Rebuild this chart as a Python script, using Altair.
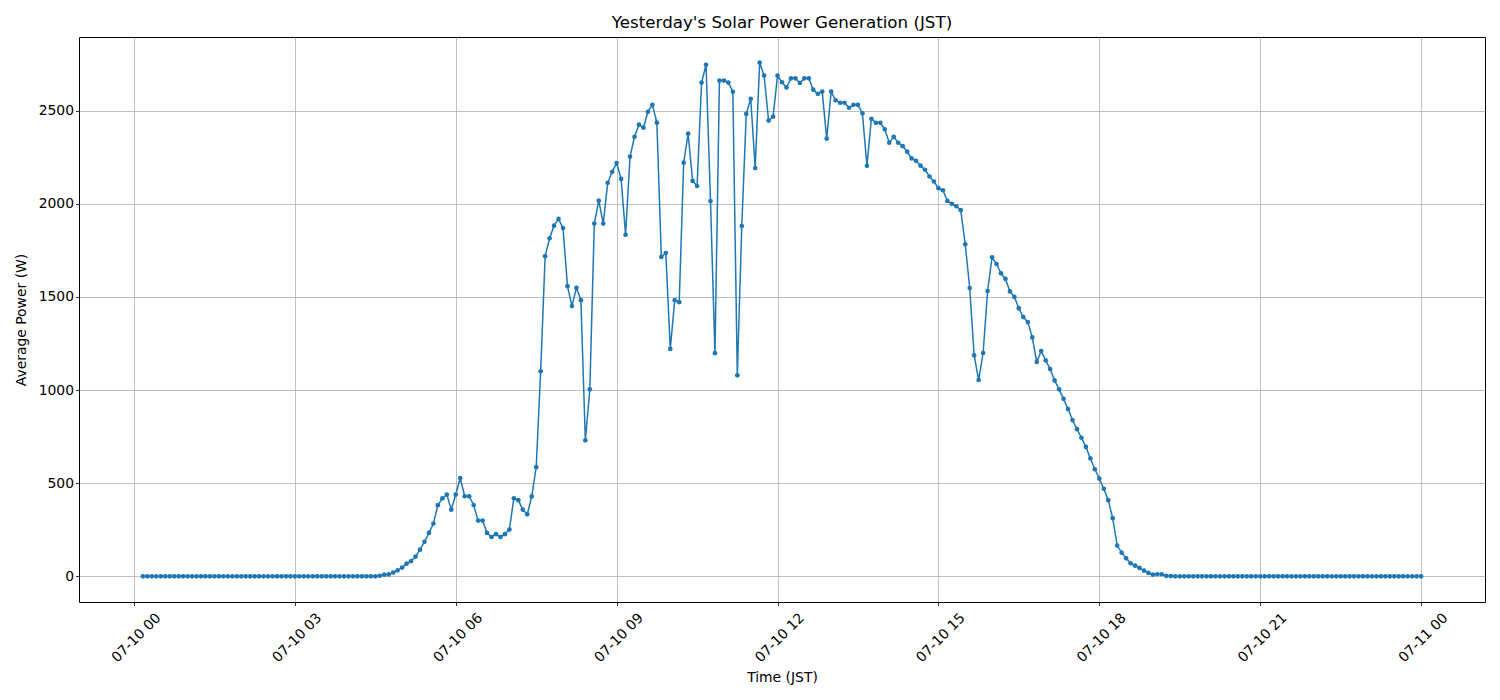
import altair as alt
import pandas as pd

# 5-minute samples from 07-10 00:10 to 07-11 00:00 (JST)
times = [t.strftime("%Y-%m-%dT%H:%M:%SZ") for t in
         pd.date_range("2024-07-10 00:10", "2024-07-11 00:00", freq="5min")]

night_before = [0] * 53
daytime = [
    3, 9, 10, 20, 32, 47, 68, 81, 106, 143,
    185, 233, 283, 382, 418, 439, 358, 439, 528, 430,
    430, 383, 299, 299, 233, 211, 226, 211, 226, 251,
    419, 409, 358, 333, 429, 586, 1101, 1719, 1815, 1883,
    1919, 1870, 1558, 1451, 1549, 1483, 730, 1004, 1894, 2017,
    1894, 2113, 2172, 2219, 2134, 1834, 2254, 2360, 2425, 2409,
    2494, 2532, 2436, 1715, 1736, 1221, 1483, 1472, 2221, 2377,
    2123, 2096, 2651, 2747, 2015, 1198, 2662, 2662, 2651, 2602,
    1079, 1881, 2483, 2564, 2192, 2758, 2689, 2447, 2468, 2689,
    2653, 2625, 2674, 2674, 2649, 2674, 2674, 2613, 2591, 2603,
    2350, 2603, 2556, 2543, 2543, 2516, 2532, 2532, 2486, 2204,
    2457, 2435, 2435, 2400, 2328, 2360, 2328, 2310, 2280, 2244,
    2231, 2205, 2183, 2147, 2120, 2084, 2073, 2016, 2000, 1987,
    1966, 1783, 1548, 1186, 1054, 1199, 1532, 1713, 1677, 1627,
    1597, 1530, 1500, 1439, 1392, 1365, 1283, 1151, 1210, 1159,
    1113, 1052, 1004, 953, 898, 839, 790, 744, 695, 633,
    575, 525, 470, 409, 312, 165, 127, 97, 70, 57,
    45, 30, 18, 9, 11, 11, 2, 1,
]
night_after = [0] * 56
power = night_before + daytime + night_after

tick_times = [alt.DateTime(year=2024, month=7, date=10, hours=h, utc=True) for h in range(0, 24, 3)]
tick_times.append(alt.DateTime(year=2024, month=7, date=11, hours=0, utc=True))
y_ticks = [0, 500, 1000, 1500, 2000, 2500]

df = pd.DataFrame({"time": times, "power": power})

FONT = "DejaVu Sans"
BLUE = "#1f77b4"

x_enc = alt.X(
    "time:T",
    scale=alt.Scale(
        type="utc",
        domain=[
            alt.DateTime(year=2024, month=7, date=9, hours=22, minutes=58, seconds=30, utc=True),
            alt.DateTime(year=2024, month=7, date=11, hours=1, minutes=11, seconds=30, utc=True),
        ],
    ),
    axis=alt.Axis(
        title="Time (JST)",
        values=tick_times,
        labelExpr="utcFormat(datum.value, '%m-%d %H')",
        labelAngle=-45,
        labelAlign="center",
        labelBaseline="middle",
        labelPadding=32,
        labelOffset=2,
        titlePadding=6,
    ),
)
y_enc = alt.Y(
    "power:Q",
    scale=alt.Scale(domain=[-138, 2896], nice=False, zero=False),
    axis=alt.Axis(title="Average Power (W)", values=y_ticks, format="d", titlePadding=10),
)

base = alt.Chart(df).encode(x=x_enc, y=y_enc)
line = base.mark_line(color=BLUE, strokeWidth=1.5)
pts = base.mark_circle(color=BLUE, size=22, opacity=1)

chart = (
    (line + pts)
    .properties(
        width=1406,
        height=565,
        background="white",
        title=alt.TitleParams(
            "Yesterday's Solar Power Generation (JST)",
            font=FONT, fontSize=16.7, fontWeight="normal", color="black",
            anchor="middle", offset=5,
        ),
        autosize=alt.AutoSizeParams(type="none"),
        padding={"left": 79, "top": 37, "right": 15, "bottom": 98},
    )
    .configure_view(stroke="black", strokeWidth=1)
    .configure_axis(
        domain=False,
        grid=True,
        gridColor="#b0b0b0",
        gridWidth=0.8,
        gridOpacity=1,
        ticks=True,
        tickSize=3.5,
        tickColor="black",
        tickWidth=0.8,
        labelFont=FONT,
        labelFontSize=13.9,
        labelColor="black",
        titleFont=FONT,
        titleFontSize=13.9,
        titleFontWeight="normal",
        titleColor="black",
    )
)

chart.save("out.html", embed_options={"renderer": "svg", "actions": False})
